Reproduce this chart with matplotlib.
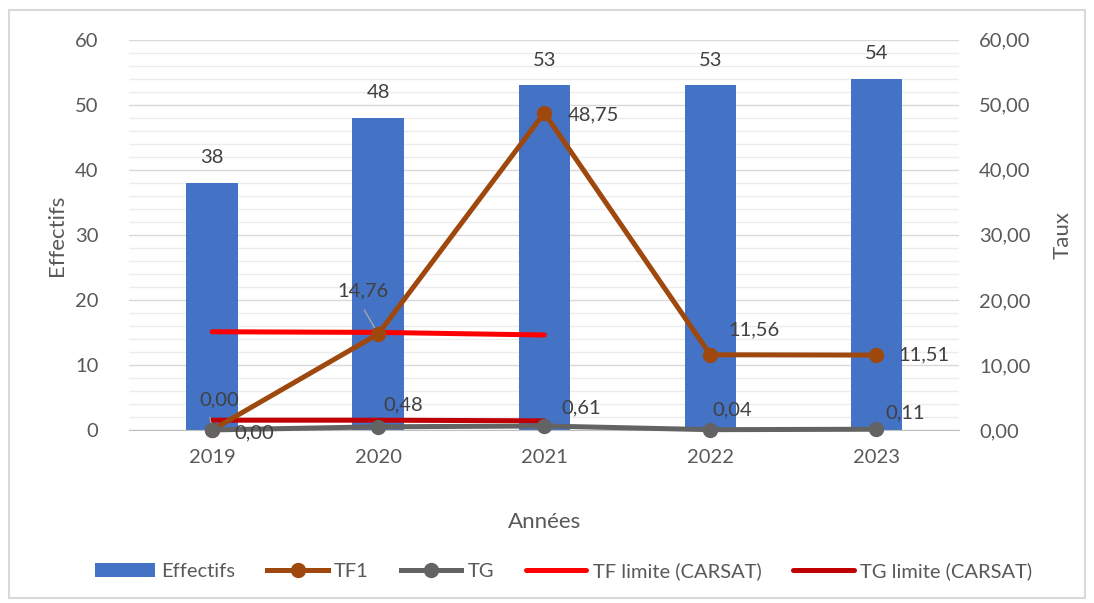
import matplotlib.pyplot as plt
import numpy as np
from matplotlib.ticker import MultipleLocator, FuncFormatter
from matplotlib.patches import Rectangle

plt.rcParams['font.family'] = ['Lato', 'DejaVu Sans']

years = ['2019', '2020', '2021', '2022', '2023']
effectifs = [38, 48, 53, 53, 54]
tf1 = [0.00, 14.76, 48.75, 11.56, 11.51]
tg = [0.00, 0.48, 0.61, 0.04, 0.11]
tf_limite = [15.1, 15.0, 14.6]
tg_limite = [1.5, 1.5, 1.4]

txt = '#595959'
lab = '#404040'
x = np.arange(len(years))

fig = plt.figure(figsize=(10.94, 6.03), dpi=100)
fig.patches.append(Rectangle((0.008, 0.008), 0.984, 0.975, transform=fig.transFigure,
                             fill=False, edgecolor='#d9d9d9', lw=1.5))
ax = fig.add_axes([0.118, 0.287, 0.759, 0.647])
ax2 = ax.twinx()

ax.bar(x, effectifs, width=0.31, color='#4472c4', label='Effectifs', zorder=2)
for xi, v in zip(x, effectifs):
  ax.annotate(str(v), (xi, v), xytext=(0, 18), textcoords='offset points',
              ha='center', va='center', fontsize=14.5, color=lab)

ax2.plot(x, tf1, color='#9e480e', lw=3.6, marker='o', ms=10, label='TF1',
         zorder=4, clip_on=False)
ax2.plot(x, tg, color='#636363', lw=3.6, marker='o', ms=10, label='TG',
         zorder=4, clip_on=False)
ax2.plot(x[:3], tf_limite, color='#ff0000', lw=3.6, label='TF limite (CARSAT)',
         solid_capstyle='round', zorder=3)
ax2.plot(x[:3], tg_limite, color='#c00000', lw=3.6, label='TG limite (CARSAT)',
         solid_capstyle='round', zorder=3)

fmt = lambda v: f'{v:.2f}'.replace('.', ',')
# (dx, dy, ha) offsets in points
tf1_off = [(-9, 22, 'left'), (-11, 31, 'center'), (17, -1.5, 'left'),
           (13, 18, 'left'), (16, 0, 'left')]
for xi, v, (dx, dy, ha) in zip(x, tf1, tf1_off):
  ax2.annotate(fmt(v), (xi, v), xytext=(dx, dy), textcoords='offset points',
               ha=ha, va='center', fontsize=14.5, color=lab, zorder=6)
ax2.annotate('', (x[1], tf1[1]), xytext=(-11, 19), textcoords='offset points',
             arrowprops=dict(arrowstyle='-', color='#a6a6a6', lw=1))
ax2.annotate('', (x[0], tf1[0]), xytext=(-2, 11), textcoords='offset points',
             arrowprops=dict(arrowstyle='-', color='#a6a6a6', lw=1))
tg_off = [(16, -2), (3.6, 16), (12, 13), (1.5, 14), (6.5, 12)]
for xi, v, (dx, dy) in zip(x, tg, tg_off):
  ax2.annotate(fmt(v), (xi, v), xytext=(dx, dy), textcoords='offset points',
               ha='left', va='center', fontsize=14.5, color=lab, zorder=6)

for a in (ax, ax2):
  a.set_ylim(0, 60)
  a.yaxis.set_major_locator(MultipleLocator(10))
  for s in a.spines.values():
    s.set_visible(False)
  a.tick_params(axis='y', length=0, labelsize=14.5, labelcolor=txt, pad=22)
ax.yaxis.set_minor_locator(MultipleLocator(2))
ax.tick_params(axis='y', which='minor', length=0)
ax.grid(axis='y', which='major', color='#d9d9d9', lw=1, zorder=0)
ax.grid(axis='y', which='minor', color='#ececec', lw=1, zorder=0)
ax.set_axisbelow(True)
ax2.yaxis.set_major_formatter(FuncFormatter(lambda v, p: fmt(v)))
ax2.tick_params(axis='y', pad=14)

ax.spines['bottom'].set_visible(True)
ax.spines['bottom'].set_color('#bfbfbf')
ax.set_xlim(-0.5, 4.5)
ax.set_xticks(x)
ax.set_xticklabels(years)
ax.tick_params(axis='x', length=0, labelsize=14.5, labelcolor=txt, pad=14)

ax.set_ylabel('Effectifs', fontsize=16, color=txt, labelpad=6)
ax2.set_ylabel('Taux', fontsize=16, color=txt, labelpad=16)
ax.set_xlabel('Années', fontsize=16, color=txt, labelpad=33)

h1, l1 = ax.get_legend_handles_labels()
h2, l2 = ax2.get_legend_handles_labels()
fig.legend(h1 + h2, l1 + l2, loc='center', bbox_to_anchor=(0.515, 0.053), ncol=5,
           frameon=False, fontsize=14.5, labelcolor=txt, handlelength=3.0,
           handletextpad=0.3, columnspacing=1.6)

fig.savefig('out.png', dpi=100)
